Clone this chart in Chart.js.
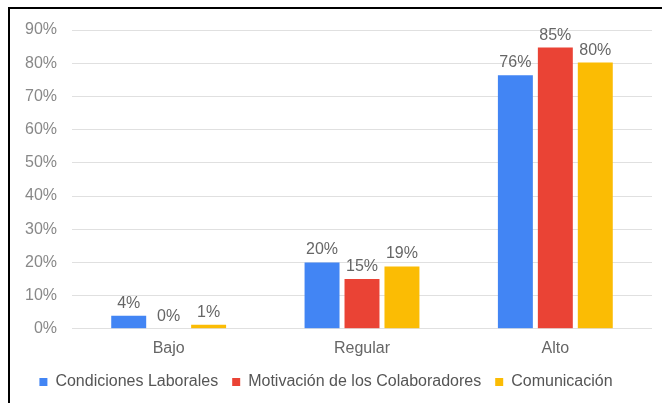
<!DOCTYPE html>
<html>
<head>
<meta charset="utf-8">
<script src="https://cdn.jsdelivr.net/npm/chart.js@4.4.0/dist/chart.umd.min.js"></script>
<style>
  body { margin: 0; background: #fff; }
  #frame { position: absolute; left: 8px; top: 7px; width: 700px; height: 450px;
           border-left: 2px solid #000; border-top: 2px solid #000; pointer-events: none; }
  canvas { position: absolute; left: 0; top: 0; }
</style>
</head>
<body>
<canvas id="myChart" width="662" height="403"></canvas>
<div id="frame"></div>
<script>
var categories = ["Bajo", "Regular", "Alto"];
var condiciones = [3.9, 20, 76.4];
var motivacion = [0, 15, 84.7];
var comunicacion = [1.2, 18.8, 80.2];
var yTicks = [0, 10, 20, 30, 40, 50, 60, 70, 80, 90];

// labels above the bars
var barLabels = {
  id: 'barLabels',
  afterDatasetsDraw: function(chart) {
    var ctx = chart.ctx;
    ctx.save();
    ctx.font = '16px "Liberation Sans", Arial, sans-serif';
    ctx.fillStyle = '#666';
    ctx.textAlign = 'center';
    ctx.textBaseline = 'alphabetic';
    chart.data.datasets.forEach(function(ds, i) {
      chart.getDatasetMeta(i).data.forEach(function(bar, j) {
        ctx.fillText(Math.round(ds.data[j]) + '%', bar.x, bar.y - 8);
      });
    });
    ctx.restore();
  }
};

Chart.defaults.font.family = '"Liberation Sans", Arial, sans-serif';
Chart.defaults.font.size = 16;

var ctx = document.getElementById("myChart").getContext('2d');
var myChart = new Chart(ctx, {
  type: 'bar',
  data: {
    labels: categories,
    datasets: [
      { label: 'Condiciones Laborales', data: condiciones, backgroundColor: '#4285F4' },
      { label: 'Motivación de los Colaboradores', data: motivacion, backgroundColor: '#EA4335' },
      { label: 'Comunicación', data: comunicacion, backgroundColor: '#FBBC04' }
    ]
  },
  options: {
    responsive: false,
    animation: false,
    categoryPercentage: 0.62,
    barPercentage: 0.875,
    layout: { padding: { top: 30, right: 10, bottom: 3, left: 0 } },
    plugins: {
      tooltip: { enabled: false },
      legend: {
        position: 'bottom',
        labels: {
          color: '#555',
          usePointStyle: true,
          pointStyle: 'rect',
          boxWidth: 8,
          boxHeight: 8,
          padding: 14
        }
      }
    },
    scales: {
      x: {
        grid: { display: false },
        border: { display: false },
        ticks: { color: '#666', padding: 2 }
      },
      y: {
        min: 0,
        max: 90,
        afterFit: function(scale) { scale.width = 72; },
        afterBuildTicks: function(scale) {
          scale.ticks = yTicks.map(function(v) { return { value: v }; });
        },
        grid: { color: '#e0e0e0', drawTicks: false },
        border: { display: false },
        ticks: {
          color: '#888',
          padding: 15,
          callback: function(v) { return v + '%'; }
        }
      }
    }
  },
  plugins: [barLabels]
});
</script>
</body>
</html>
